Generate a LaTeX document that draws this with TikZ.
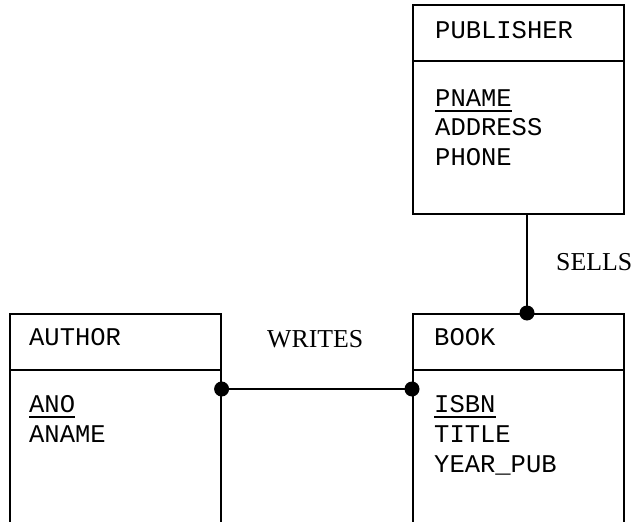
\documentclass[tikz,border=0pt]{standalone}
\usepackage{fontspec}
\newfontfamily\courfont{Liberation Mono}
\newfontfamily\timesfont{Liberation Serif}
\begin{document}
\begin{tikzpicture}[x=1pt,y=1pt,
  entity/.style={draw, line width=1.6pt, rectangle, minimum width=211pt, anchor=north west, inner sep=0pt},
  attr/.style={anchor=base west, inner sep=0pt, font=\courfont\fontsize{25.5}{30}\selectfont},
  rel/.style={anchor=base west, inner sep=0pt, font=\timesfont\fontsize{25.8}{30}\selectfont},
  link/.style={line width=1.6pt},
  dot/.style={fill=black}
]
\clip (0,0) rectangle (633,-522);
% entities
\node[entity, minimum height=209pt] (publisher) at (412,-4) {};
\node[entity, minimum height=240pt] (author) at (9,-313) {};
\node[entity, minimum height=240pt] (book) at (412,-313) {};
% header separators
\draw[link] ([yshift=-57]publisher.north west) -- ([yshift=-57]publisher.north east);
\draw[link] ([yshift=-57]author.north west) -- ([yshift=-57]author.north east);
\draw[link] ([yshift=-57]book.north west) -- ([yshift=-57]book.north east);
% publisher text
\node[attr] (pubname) at (435,-38) {PUBLISHER};
\node[attr] (pname) at (435,-106) {PNAME};
\node[attr] (paddr) at (435,-135) {ADDRESS};
\node[attr] (pphone) at (435,-165) {PHONE};
\draw[line width=1.3pt] ([yshift=-5]pname.base west) -- ([yshift=-5]pname.base east);
% author text
\node[attr] (authname) at (29,-345) {AUTHOR};
\node[attr] (ano) at (29,-412) {ANO};
\node[attr] (aname) at (29,-442) {ANAME};
\draw[line width=1.3pt] ([yshift=-5]ano.base west) -- ([yshift=-5]ano.base east);
% book text
\node[attr] (bookname) at (434,-345) {BOOK};
\node[attr] (isbn) at (434,-412) {ISBN};
\node[attr] (title) at (434,-442) {TITLE};
\node[attr] (year) at (434,-472) {YEAR\_PUB};
\draw[line width=1.3pt] ([yshift=-5]isbn.base west) -- ([yshift=-5]isbn.base east);
% relationships
\coordinate (wa) at ([yshift=-76]author.north east);
\coordinate (wb) at ([yshift=-76]book.north west);
\draw[link] (wa) -- (wb);
\fill[dot] (wa) circle (7.5);
\fill[dot] (wb) circle (7.5);
\node[rel] (writes) at (267,-347) {WRITES};
\coordinate (sa) at ([xshift=115]publisher.south west);
\coordinate (sb) at ([xshift=115]book.north west);
\draw[link] (sa) -- (sb);
\fill[dot] (sb) circle (7.5);
\node[rel] (sells) at (556,-270) {SELLS};
\end{tikzpicture}
\end{document}
